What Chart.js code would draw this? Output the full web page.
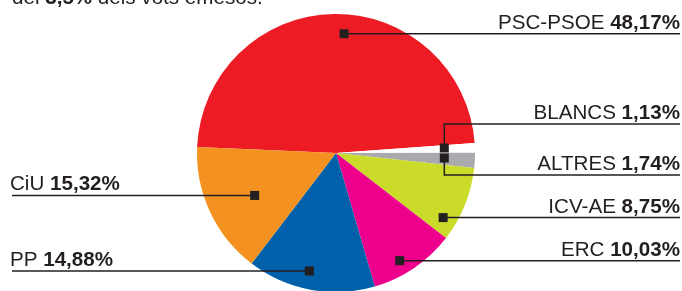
<!DOCTYPE html>
<html>
<head>
<meta charset="utf-8">
<script src="https://cdn.jsdelivr.net/npm/chart.js@4/dist/chart.umd.min.js"></script>
<style>
  html, body { margin: 0; padding: 0; background: #fff; }
</style>
</head>
<body>
<canvas id="vots-chart" width="682" height="291"></canvas>
<script>
/* ======== DATA ======== */
const parties = ["PSC-PSOE", "BLANCS", "ALTRES", "ICV-AE", "ERC", "PP", "CiU"]
const votes = [48.17, 1.13, 1.74, 8.75, 10.03, 14.88, 15.32]
const voteLabels = ["48,17%", "1,13%", "1,74%", "8,75%", "10,03%", "14,88%", "15,32%"]
const colors = ["#ED1C24", "#FFFFFF", "#A9AAAD", "#CBDB2A", "#EC008C", "#0061AA", "#F39220"]

// where each callout marker sits inside its slice (fraction along the arc, fraction of radius)
const callouts = [
    {side: "right", along: 0.527, depth: 0.86},
    {side: "right", along: 0.36, depth: 0.78, lineY: 124},
    {side: "right", along: 0.43, depth: 0.78, lineY: 175},
    {side: "right", along: 0.79, depth: 0.90},
    {side: "right", along: 0.60, depth: 0.90},
    {side: "left", along: 0.54, depth: 0.87},
    {side: "left", along: 0.455, depth: 0.66}
]

const INK = "#231F20"
const FONT = "Liberation Sans, Arial, sans-serif"
const SIZE = "20.6px "

/* ======== CALLOUT PLUGIN ======== */
const calloutPlugin = {
    id: "callouts",
    afterDraw(chart) {
        const ctx = chart.ctx
        const meta = chart.getDatasetMeta(0)
        ctx.save()

        // cropped subtitle line at the very top
        ctx.fillStyle = INK
        ctx.textBaseline = "alphabetic"
        ctx.textAlign = "left"
        let tx = 12
        const parts = [["del ", false], ["3,5%", true], [" dels vots emesos.", false]]
        parts.forEach(([txt, bold]) => {
            ctx.font = (bold ? "bold " : "") + SIZE + FONT
            ctx.fillText(txt, tx, 4)
            tx += ctx.measureText(txt).width
        })

        meta.data.forEach((arc, i) => {
            const c = callouts[i]
            const a = arc.startAngle + c.along * (arc.endAngle - arc.startAngle)
            const mx = arc.x + Math.cos(a) * c.depth * arc.outerRadius
            const my = arc.y + Math.sin(a) * c.depth * arc.outerRadius
            const ly = c.lineY !== undefined ? c.lineY : my

            ctx.strokeStyle = INK
            ctx.lineWidth = 1.5
            ctx.beginPath()
            if (c.side === "right") {
                ctx.moveTo(mx, my)
                ctx.lineTo(mx, ly)
                ctx.lineTo(680, ly)
            } else {
                ctx.moveTo(12, ly)
                ctx.lineTo(mx, ly)
            }
            ctx.stroke()

            ctx.fillStyle = INK
            ctx.fillRect(mx - 4.5, my - 4.5, 9, 9)

            const name = parties[i] + " "
            const value = voteLabels[i]
            ctx.font = SIZE + FONT
            const nameW = ctx.measureText(name).width
            ctx.font = "bold " + SIZE + FONT
            const valueW = ctx.measureText(value).width
            const x0 = c.side === "right" ? 680 - nameW - valueW : 10
            ctx.textAlign = "left"
            ctx.font = SIZE + FONT
            ctx.fillText(name, x0, ly - 5)
            ctx.font = "bold " + SIZE + FONT
            ctx.fillText(value, x0 + nameW, ly - 5)
        })
        ctx.restore()
    }
}

/* ======== CHART ======== */
const ctxVots = document.getElementById("vots-chart").getContext("2d")
const votsChart = new Chart(ctxVots, {
    type: "pie",
    data: {
        labels: parties,
        datasets: [{
            data: votes,
            backgroundColor: colors,
            borderWidth: 0
        }]
    },
    options: {
        responsive: false,
        animation: false,
        rotation: -87.5,
        radius: 139,
        layout: {
            padding: {left: 0, right: 10, top: 15, bottom: 0}
        },
        plugins: {
            legend: {display: false},
            tooltip: {enabled: false}
        }
    },
    plugins: [calloutPlugin]
})
</script>
</body>
</html>
